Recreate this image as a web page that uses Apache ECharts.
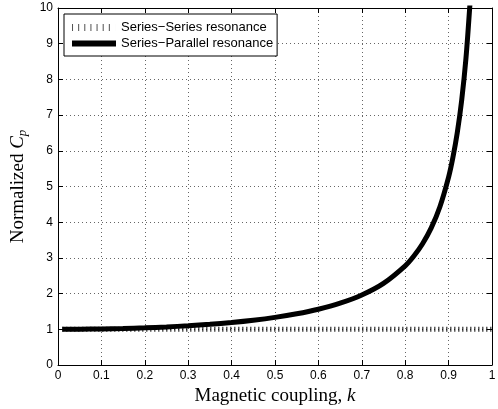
<!DOCTYPE html>
<html><head><meta charset="utf-8">
<script src="https://cdn.jsdelivr.net/npm/echarts@6/dist/echarts.min.js"></script>
<style>html,body{margin:0;padding:0;background:#fff}#c{width:498px;height:409px}</style>
</head><body><div id="c"></div>
<script>
const kValues = [0.01,0.05,0.1,0.15,0.2,0.25,0.3,0.35,0.4,0.45,0.5,0.55,0.6,0.65,0.7,0.75,0.8,0.82,0.84,0.86,0.88,0.9,0.91,0.92,0.93,0.94,0.95];
const seriesParallel = [1.0001,1.0025,1.0101,1.023,1.0417,1.0667,1.0989,1.1396,1.1905,1.2539,1.3333,1.4337,1.5625,1.7316,1.9608,2.2857,2.7778,3.0525,3.3967,3.8402,4.4326,5.2632,5.8173,6.5104,7.4019,8.5911,10.256];
const kSeries = [0.01, 1.0];
const seriesSeries = [1, 1];
const names = ['Series\u2212Series resonance','Series\u2212Parallel resonance'];

const chart = echarts.init(document.getElementById('c'));
const lab = {color:'#000', fontFamily:'Liberation Sans, Arial', fontSize:12};
const gridLine = {show:true, lineStyle:{color:'#666', type:[1,3], width:1}};
const tick = {show:true, inside:true, length:5, lineStyle:{color:'#000'}};
const fmtX = v => (v===0||v===1) ? String(v) : v.toFixed(1);
let tickPath = 'path://';
for (let i=0;i<7;i++){ const x=i*6; tickPath += 'M'+x+',0 h1 v7 h-1 Z '; }
tickPath += 'M43,0 h0.01 v7 h-0.01 Z';
chart.setOption({
  animation:false,
  grid:{left:58, right:6, top:8, bottom:44, containLabel:false, outerBoundsMode:'none'},
  legend:{
    left:64, top:14, orient:'vertical', itemGap:3, itemWidth:44, itemHeight:11,
    symbolKeepAspect:true,
    backgroundColor:'#fff', borderColor:'#000', borderWidth:1, padding:[7,4,6,8],
    textStyle:{fontFamily:'Liberation Sans, Arial', fontSize:13, color:'#000'},
    data:[{name:names[0], icon:tickPath, itemStyle:{color:'#555'}},
          {name:names[1], icon:'path://M0,0 h44 v6 h-44 Z', itemStyle:{color:'#000'}}]
  },
  xAxis:[{
    type:'value', min:0, max:1, interval:0.1, position:'bottom',
    axisLine:{show:true, onZero:false, lineStyle:{color:'#000'}}, axisTick:tick,
    axisLabel:Object.assign({margin:5, formatter:fmtX}, lab), splitLine:gridLine,
    name:'Magnetic coupling, {i|k}', nameLocation:'middle', nameGap:21,
    nameTextStyle:{fontFamily:'Liberation Serif, Times New Roman', fontSize:19, color:'#000',
      rich:{i:{fontFamily:'Liberation Serif', fontStyle:'italic', fontSize:19}}}
  },{
    type:'value', min:0, max:1, interval:0.1, position:'top',
    axisLine:{show:true, onZero:false, lineStyle:{color:'#000'}}, axisTick:tick,
    axisLabel:{show:false}, splitLine:{show:false}
  }],
  yAxis:[{
    type:'value', min:0, max:10, interval:1, position:'left',
    axisLine:{show:true, onZero:false, lineStyle:{color:'#000'}}, axisTick:tick,
    axisLabel:Object.assign({margin:5}, lab), splitLine:gridLine,
    name:'Normalized {i|C}{s|p}', nameLocation:'middle', nameGap:29,
    nameTextStyle:{fontFamily:'Liberation Serif, Times New Roman', fontSize:19, color:'#000',
      rich:{i:{fontFamily:'Liberation Serif', fontStyle:'italic', fontSize:19}, s:{fontFamily:'Liberation Serif', fontStyle:'italic', fontSize:13, padding:[8,0,0,0]}}}
  },{
    type:'value', min:0, max:10, interval:1, position:'right',
    axisLine:{show:true, onZero:false, lineStyle:{color:'#000'}}, axisTick:tick,
    axisLabel:{show:false}, splitLine:{show:false}
  }],
  series:[{
    name:names[0], type:'line', showSymbol:false, symbol:'none',
    data:kSeries.map((k,i)=>[k,seriesSeries[i]]),
    itemStyle:{color:'#000'},
    lineStyle:{color:'#000', width:5, type:[1,3]}
  },{
    name:names[1], type:'line', showSymbol:false, symbol:'none', smooth:0.3, clip:true,
    data:kValues.map((k,i)=>[k,seriesParallel[i]]),
    itemStyle:{color:'#000'},
    lineStyle:{color:'#000', width:5}
  }]
});
</script></body></html>
